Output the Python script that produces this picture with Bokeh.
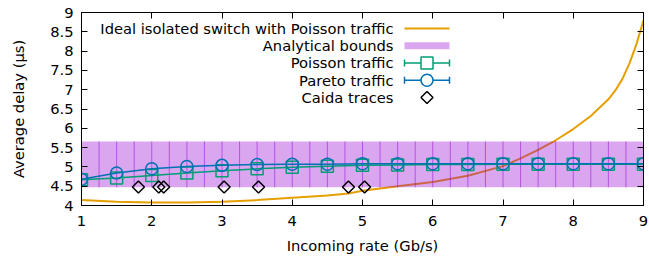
from bokeh.plotting import figure
from bokeh.models import Range1d, FixedTicker, LinearAxis, Label, CustomJSTickFormatter
from bokeh.embed import file_html
from bokeh.resources import INLINE
import math

# ---------------- data ----------------
rate = [1, 1.5, 2, 2.5, 3, 3.5, 4, 4.5, 5, 5.5, 6, 6.5, 7, 7.5, 8, 8.5, 9]
poisson_delay = [4.67, 4.71, 4.78, 4.84, 4.90, 4.95, 4.99, 5.02, 5.04, 5.05, 5.06, 5.06, 5.07, 5.07, 5.07, 5.07, 5.07]
pareto_delay = [4.68, 4.84, 4.95, 5.01, 5.04, 5.06, 5.07, 5.07, 5.08, 5.08, 5.08, 5.08, 5.08, 5.08, 5.08, 5.08, 5.08]

ideal_rate = [1, 1.5, 2, 2.5, 3, 3.5, 4, 4.5, 4.8, 5, 5.5, 6, 6.5, 7, 7.25, 7.5, 7.75, 8, 8.25, 8.5, 8.6, 8.7, 8.8, 8.9, 9]
ideal_delay = [4.14, 4.10, 4.08, 4.08, 4.10, 4.14, 4.20, 4.26, 4.31, 4.38, 4.50, 4.61, 4.77, 5.02, 5.22, 5.44, 5.69, 5.98, 6.32, 6.75, 6.98, 7.28, 7.68, 8.18, 8.80]

band_rate = [1, 1.25, 1.5, 1.75, 2, 2.25, 2.5, 2.75, 3, 3.25, 3.5, 3.75, 4, 4.25, 4.5, 4.75,
             5, 5.25, 5.5, 5.75, 6, 6.25, 6.5, 6.75, 7, 7.25, 7.5, 7.75, 8, 8.25, 8.5, 8.75, 9]
band_low = [4.47, 4.47, 4.47, 4.47, 4.47, 4.47, 4.47, 4.47, 4.47, 4.47, 4.47, 4.47, 4.47, 4.47, 4.47, 4.47,
            4.47, 4.47, 4.47, 4.47, 4.47, 4.47, 4.47, 4.47, 4.47, 4.47, 4.47, 4.47, 4.47, 4.47, 4.47, 4.47, 4.47]
band_high = [5.66, 5.66, 5.66, 5.66, 5.66, 5.66, 5.66, 5.66, 5.66, 5.66, 5.66, 5.66, 5.66, 5.66, 5.66, 5.66,
             5.66, 5.66, 5.66, 5.66, 5.66, 5.66, 5.66, 5.66, 5.66, 5.66, 5.66, 5.66, 5.66, 5.66, 5.66, 5.66, 5.66]

caida_rate = [1.81, 2.10, 2.17, 3.03, 3.52, 4.80, 5.03]
caida_delay = [4.48, 4.48, 4.48, 4.48, 4.48, 4.48, 4.48]

x_ticks = [1, 2, 3, 4, 5, 6, 7, 8, 9]
y_ticks = [4, 4.5, 5, 5.5, 6, 6.5, 7, 7.5, 8, 8.5, 9]
y_tick_labels = ["4", "4.5", "5", "5.5", "6", "6.5", "7", "7.5", "8", "8.5", "9"]

legend_labels = ["Ideal isolated switch with Poisson traffic", "Analytical bounds",
                 "Poisson traffic", "Pareto traffic", "Caida traces"]

# ---------------- style ----------------
FONT = "DejaVu Sans"
FS = "14.7px"
ORANGE = "#e69f00"
PURPLE = "#9400d3"
GREEN = "#009e73"
BLUE = "#0072b2"

FW, FH = 562, 193

p = figure(frame_width=FW, frame_height=FH,
           x_range=Range1d(1, 9), y_range=Range1d(4, 9),
           output_backend="svg", toolbar_location=None,
           min_border_left=81, min_border_right=6, min_border_top=12, min_border_bottom=54)
p.xgrid.visible = False
p.ygrid.visible = False
p.outline_line_color = "black"
p.outline_line_width = 1
p.background_fill_color = "white"
p.border_fill_color = "white"

def style_axis(ax, ticks):
    ax.ticker = FixedTicker(ticks=ticks)
    ax.major_tick_in = 6
    ax.major_tick_out = 0
    ax.minor_tick_line_color = None
    ax.axis_line_color = "black"
    ax.major_tick_line_color = "black"
    ax.major_label_text_font = FONT
    ax.major_label_text_font_size = FS
    ax.major_label_text_color = "black"
    ax.axis_label_text_font = FONT
    ax.axis_label_text_font_size = FS
    ax.axis_label_text_font_style = "normal"
    ax.axis_label_text_color = "black"

xa = p.xaxis[0]
style_axis(xa, x_ticks)
xa.axis_label = "Incoming rate (Gb/s)"
xa.major_label_standoff = 10
xa.axis_label_standoff = 8

ya = p.yaxis[0]
style_axis(ya, y_ticks)
ya.major_label_overrides = {t: s for t, s in zip(y_ticks, y_tick_labels)}
ya.axis_label = "Average delay (\u03bcs)"
ya.major_label_standoff = 8
ya.axis_label_standoff = 20

for loc, ticks in (("right", y_ticks), ("above", x_ticks)):
    ax = LinearAxis(formatter=CustomJSTickFormatter(code="return ''"))
    style_axis(ax, ticks)
    ax.major_label_standoff = 0
    ax.major_label_text_font_size = "0px"
    p.add_layout(ax, loc)

# ---------------- marks ----------------
p.line(ideal_rate, ideal_delay, line_color=ORANGE, line_width=2)

p.varea(x=band_rate, y1=band_low, y2=band_high, fill_color=PURPLE, fill_alpha=0.35)
p.segment(x0=band_rate[1:-1], y0=band_low[1:-1], x1=band_rate[1:-1], y1=band_high[1:-1],
          line_color=PURPLE, line_alpha=0.5, line_width=1)

p.line(rate, poisson_delay, line_color=GREEN, line_width=1.5)
p.scatter(rate, poisson_delay, marker="square", size=12, line_color=GREEN,
          line_width=1.5, fill_alpha=0)

p.line(rate, pareto_delay, line_color=BLUE, line_width=1.5)
p.scatter(rate, pareto_delay, marker="circle", size=12, line_color=BLUE,
          line_width=1.5, fill_alpha=0)

p.scatter(caida_rate, caida_delay, marker="square", angle=math.pi / 4, size=8.5,
          line_color="black", line_width=1.5, fill_alpha=0)

# ---------------- key (pixel-space layout) ----------------
p.extra_x_ranges = {"px": Range1d(0, FW)}
p.extra_y_ranges = {"px": Range1d(FH, 0)}
KX0, KX1, KXC, KTX = 323, 368, 345.5, 312
ROWS = [16, 33.2, 50.4, 67.7, 85]
kw = dict(x_range_name="px", y_range_name="px")

for lab, ry in zip(legend_labels, ROWS):
    p.add_layout(Label(x=KTX, y=ry, text=lab, text_align="right", text_baseline="middle",
                       text_font=FONT, text_font_size=FS, text_color="black", **kw))

p.segment(x0=[KX0], y0=[ROWS[0]], x1=[KX1], y1=[ROWS[0]], line_color=ORANGE, line_width=2, **kw)
p.segment(x0=[KX0], y0=[ROWS[1]], x1=[KX1], y1=[ROWS[1]], line_color=PURPLE, line_alpha=0.35,
          line_width=7, line_cap="butt", **kw)
for ry, col, mk in ((ROWS[2], GREEN, "square"), (ROWS[3], BLUE, "circle")):
    p.segment(x0=[KX0, KX0, KX1], y0=[ry, ry - 3.5, ry - 3.5], x1=[KX1, KX0, KX1],
              y1=[ry, ry + 3.5, ry + 3.5], line_color=col, line_width=1.5, **kw)
    p.scatter(x=[KXC], y=[ry], marker=mk, size=12, line_color=col, line_width=1.5,
              fill_color="white", **kw)
p.scatter(x=[KXC], y=[ROWS[4]], marker="square", angle=math.pi / 4, size=8.5,
          line_color="black", line_width=1.5, fill_alpha=0, **kw)

open("out.html", "w").write(file_html(p, INLINE))
